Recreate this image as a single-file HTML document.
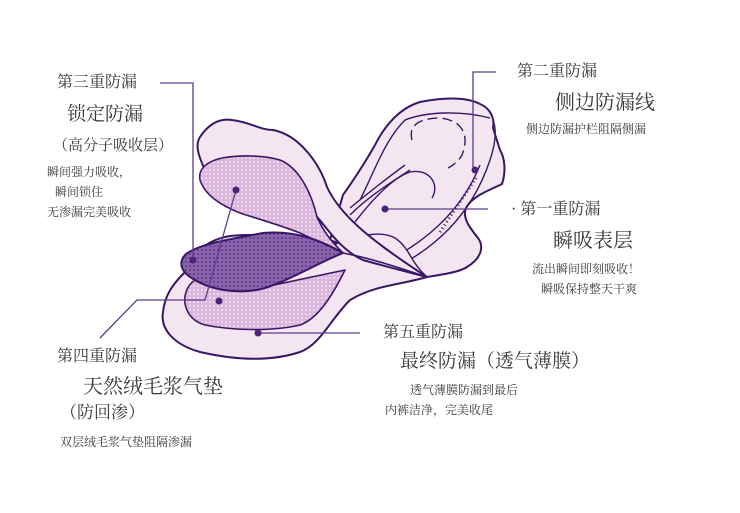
<!DOCTYPE html>
<html><head><meta charset="utf-8"><style>
html,body{margin:0;padding:0;background:#fff;}
body{width:740px;height:513px;position:relative;overflow:hidden;font-family:"Liberation Serif","Noto Serif CJK SC","Noto Sans CJK SC",serif;color:#3a3a3a;}
.t{position:absolute;white-space:nowrap;line-height:1;}
svg{position:absolute;left:0;top:0;}
</style></head><body>
<svg width="740" height="513" viewBox="0 0 740 513">
<defs>
<pattern id="pd" width="4" height="4" patternUnits="userSpaceOnUse"><rect width="4" height="4" fill="#dcb6dc"/><circle cx="2" cy="2" r="0.8" fill="#fff"/></pattern>
<pattern id="dd" width="4" height="4" patternUnits="userSpaceOnUse"><rect width="4" height="4" fill="#8a63ad"/><circle cx="2" cy="2" r="0.8" fill="#3d2266"/></pattern>
</defs>
<g stroke="#3a1766" stroke-width="2" stroke-linejoin="round">
<!-- bottom layer -->
<path d="M427,277 C400,285 375,285 350,300 C330,320 320,345 300,352 C270,362 235,360 200,352 C175,345 160,330 163,312 C165,295 172,285 185,272 C192,255 205,240 230,236 C270,232 330,240 363,250 C390,258 410,268 427,277 Z" fill="#f3e6f1"/>
<!-- lower pink dotted -->
<path d="M345,270 C335,290 320,318 300,325 C270,332 230,330 205,325 C188,320 182,305 186,292 C190,280 200,276 212,276 L250,290 Z" fill="url(#pd)" stroke-width="1.6"/>
<!-- right wing -->
<path d="M427,277 C440,275 460,272 467,267 C482,258 484,246 478,238 C470,228 462,218 466,208 C472,196 490,190 502,184 C506,172 505,158 500,150 L493,128 C495,118 490,108 480,104 C465,96 440,98 420,102 C400,108 385,125 375,145 C362,168 350,185 343,195 L330,240 Z" fill="#f3e6f1"/>
<path d="M360,200 C375,170 385,140 405,120 C425,112 460,110 490,118" fill="none" stroke-width="1.4"/>
<path d="M350,215 C370,195 395,180 410,170" fill="none" stroke-width="1.4"/>
<path d="M350,208 C372,190 390,176 405,165" fill="none" stroke-width="1.4"/>
<path d="M412,140 C408,125 420,118 440,118 C462,120 470,135 462,155 C458,162 452,166 448,168" fill="none" stroke-width="1.4" stroke-dasharray="10,5"/>
<path d="M355,222 C372,200 392,178 410,172 C430,168 440,185 432,198" fill="none" stroke-width="1.4"/>
<path d="M395,268 C430,250 470,220 490,160 C495,145 497,130 493,120" fill="none" stroke-width="1.4"/>
<path d="M385,262 C420,245 460,215 480,165" fill="none" stroke-width="1.4"/>
<path d="M440,232 L476,178" fill="none" stroke-width="3" stroke-dasharray="1,3"/>
<path d="M330,246 C360,235 380,230 395,238 C410,248 410,262 427,277" fill="#f3e6f1" stroke-width="1.4"/>
<!-- top flap -->
<path d="M427,277 C400,270 380,265 363,260 C340,250 325,225 317,217 C295,205 270,205 250,203 C230,200 210,185 205,170 C198,155 195,145 200,137 C208,125 218,118 232,120 C250,122 260,130 273,130 C300,135 320,165 327,187 C340,215 370,240 427,277 Z" fill="#f3e6f1"/>
<path d="M270,205 C285,210 295,215 300,222 L287,220 Z" fill="#fff" stroke-width="1.4"/>
<!-- upper pink dotted -->
<path d="M343,253 C330,248 315,240 300,233 C280,225 255,218 240,213 C220,205 205,195 200,180 C198,170 205,162 222,158 C240,155 262,155 280,160 C300,168 312,195 317,217 C325,235 335,245 343,253 Z" fill="url(#pd)" stroke-width="1.6"/>
<!-- dark layer -->
<path d="M343,253 C320,262 290,280 265,288 C245,294 215,292 195,280 C180,272 178,262 186,254 C200,244 225,240 263,233 C295,230 320,240 343,253 Z" fill="url(#dd)"/>
<path d="M343,253 C370,258 400,268 427,277" fill="none" stroke-width="1.6"/>
</g>
<g stroke="#5b3d8c" stroke-width="1.3" fill="none">
<polyline points="160,83 193,83 193,260"/>
<polyline points="473,170 473,72 496,72"/>
<line x1="385" y1="209" x2="488" y2="209"/>
<polyline points="100,338 137,300 205,300 236,190"/>
<line x1="258" y1="333" x2="360" y2="333"/>
</g>
<g fill="#4a2378">
<circle cx="193" cy="260" r="3.5"/><circle cx="236" cy="190" r="3.5"/><circle cx="219" cy="301" r="3.5"/>
<circle cx="475" cy="170" r="3.5"/><circle cx="385" cy="209" r="3.5"/><circle cx="258" cy="333" r="3.5"/>
</g>
</svg>
<div class="t" style="left:57px;top:75px;font-size:16px">第三重防漏</div>
<div class="t" style="left:67px;top:105px;font-size:19px">锁定防漏</div>
<div class="t" style="left:53px;top:139px;font-size:15px">（高分子吸收层）</div>
<div class="t" style="left:47px;top:166px;font-size:12px">瞬间强力吸收，</div>
<div class="t" style="left:55px;top:186px;font-size:12px">瞬间锁住</div>
<div class="t" style="left:47px;top:206px;font-size:12px">无渗漏完美吸收</div>
<div class="t" style="left:517px;top:64px;font-size:16px">第二重防漏</div>
<div class="t" style="left:555px;top:93px;font-size:20px">侧边防漏线</div>
<div class="t" style="left:526px;top:123px;font-size:12px">侧边防漏护栏阻隔侧漏</div>
<div class="t" style="left:511px;top:202px;font-size:16px">· 第一重防漏</div>
<div class="t" style="left:553px;top:231px;font-size:20px">瞬吸表层</div>
<div class="t" style="left:532px;top:263px;font-size:12px">流出瞬间即刻吸收！</div>
<div class="t" style="left:541px;top:283px;font-size:12px">瞬吸保持整天干爽</div>
<div class="t" style="left:383px;top:325px;font-size:16px">第五重防漏</div>
<div class="t" style="left:400px;top:352px;font-size:19px">最终防漏（透气薄膜）</div>
<div class="t" style="left:410px;top:384px;font-size:12px">透气薄膜防漏到最后</div>
<div class="t" style="left:385px;top:404px;font-size:12px">内裤洁净，完美收尾</div>
<div class="t" style="left:57px;top:349px;font-size:16px">第四重防漏</div>
<div class="t" style="left:83px;top:377px;font-size:20px">天然绒毛浆气垫</div>
<div class="t" style="left:60px;top:404px;font-size:17px">（防回渗）</div>
<div class="t" style="left:60px;top:436px;font-size:12px">双层绒毛浆气垫阻隔渗漏</div>
</body></html>
